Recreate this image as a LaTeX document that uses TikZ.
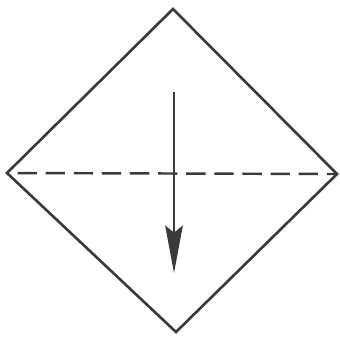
\documentclass[tikz,border=0pt]{standalone}
\usepackage{tikz}
\usetikzlibrary{arrows.meta}
\definecolor{colInk}{HTML}{3A3A3A}
\tikzset{
    paperedge/.style={draw=colInk, line width=1.5pt, line join=miter},
    foldline/.style={draw=colInk, line width=1.4pt, dash pattern=on 11pt off 5pt, dash phase=-6pt},
    foldarrow/.style={draw=colInk, line width=1.3pt,
        -{Stealth[length=27pt, width=10pt, inset=4pt]}},
}
\begin{document}
\begin{tikzpicture}[x=0.02cm, y=-0.02cm]
    \useasboundingbox (0,0) rectangle (340,336);

    % corners of the square
    \coordinate (top) at (173,9);
    \coordinate (lft) at (7,173);
    \coordinate (rgt) at (337,174);
    \coordinate (bot) at (176,332);

    % arrow ends
    \coordinate (from) at (174,92);
    \coordinate (to) at (174,273);

    \draw[paperedge] (top) -- (rgt) -- (bot) -- (lft) -- cycle;

    % valley fold
    \draw[foldline] (lft) -- (rgt);

    \draw[foldarrow] (from) -- (to);
\end{tikzpicture}
\end{document}
